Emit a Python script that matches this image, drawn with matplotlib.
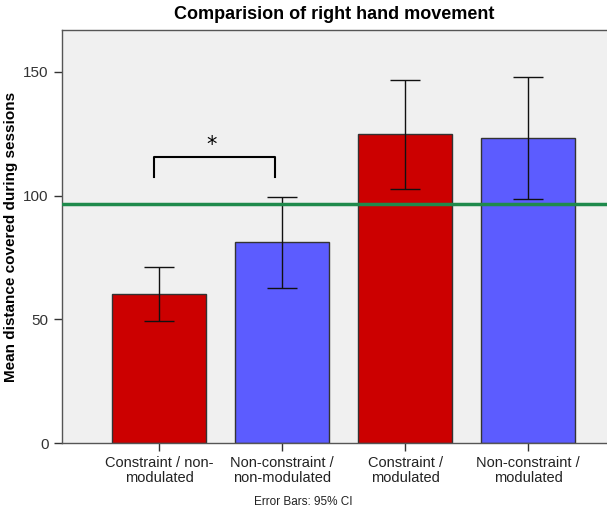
import numpy as np
import matplotlib.pyplot as plt

plt.rcParams['font.family'] = ['Liberation Sans', 'DejaVu Sans']

# data
categories = ["Constraint / non-\nmodulated", "Non-constraint /\nnon-modulated",
              "Constraint /\nmodulated", "Non-constraint /\nmodulated"]
means = [60.2, 81.3, 125.0, 123.3]
ci_low = [49.3, 62.7, 102.7, 98.7]
ci_high = [71.2, 99.5, 146.8, 148.0]
bar_colors = ["#cc0000", "#5c5cff", "#cc0000", "#5c5cff"]
ref_line = 96.6

fig = plt.figure(figsize=(6.07, 5.14), dpi=100)
ax = fig.add_axes([0.102, 0.138, 0.898, 0.804])
ax.set_facecolor("#f0f0f0")

x = np.arange(len(categories))
means_a = np.array(means)
yerr = [means_a - np.array(ci_low), np.array(ci_high) - means_a]

ax.bar(x, means, width=0.76, color=bar_colors, edgecolor="#333333", linewidth=1.0, zorder=2)
ax.errorbar(x, means, yerr=yerr, fmt="none", ecolor="#111111", elinewidth=1.0,
            capsize=11, capthick=1.0, zorder=3)
ax.axhline(ref_line, color="#1f8a4c", linewidth=2.5, zorder=4)

# significance bracket between the first two bars
ax.plot([-0.04, -0.04, 0.94, 0.94], [107.7, 115.6, 115.6, 107.7], color="black", linewidth=1.5, zorder=4)
ax.text(0.43, 116.5, "*", ha="center", va="bottom", fontsize=15, family="DejaVu Sans")

ax.set_xlim(-0.79, 3.64)
ax.set_ylim(0, 167)
ax.set_yticks([0, 50, 100, 150])
ax.set_xticks(x)
ax.set_xticklabels(categories, fontsize=10.5, color="#222222", linespacing=1.05)
ax.tick_params(axis="y", labelsize=11, colors="#333333", length=6, width=1)
ax.tick_params(axis="x", length=6, width=1, colors="#333333", labelcolor="#222222")

for side in ["left", "bottom", "top"]:
    ax.spines[side].set_color("#555555")
    ax.spines[side].set_linewidth(1)
ax.spines["right"].set_visible(False)

ax.set_ylabel("Mean distance covered during sessions", fontsize=11, fontweight="bold")
ax.set_title("Comparision of right hand movement", fontsize=13, fontweight="bold", pad=8)
fig.text(0.5, 0.012, "Error Bars: 95% CI", ha="center", va="bottom", fontsize=8.5, color="#222222")

fig.savefig("out.png", dpi=100)
